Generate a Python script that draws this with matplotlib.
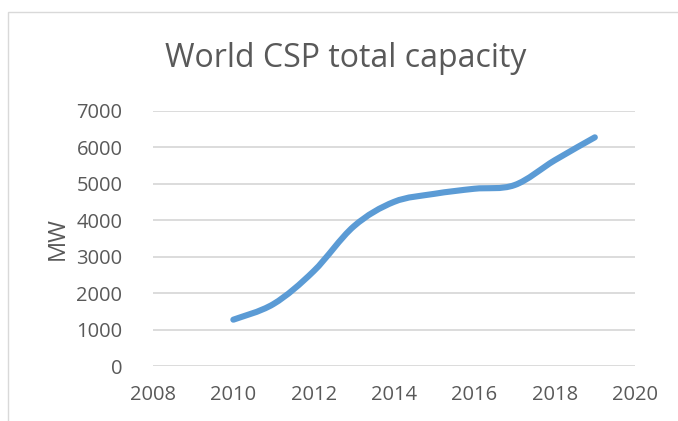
import matplotlib
matplotlib.use("Agg")
import matplotlib.pyplot as plt
from matplotlib.path import Path
from matplotlib.patches import PathPatch, Rectangle

years = [2010, 2011, 2012, 2013, 2014, 2015, 2016, 2017, 2018, 2019]
capacity_mw = [1270, 1700, 2600, 3830, 4500, 4720, 4860, 4960, 5640, 6270]
x_ticks = [2008, 2010, 2012, 2014, 2016, 2018, 2020]
y_ticks = [0, 1000, 2000, 3000, 4000, 5000, 6000, 7000]
title = "World CSP total capacity"
y_label = "MW"

TEXT = "#595959"
GRID = "#D9D9D9"
LINE = "#5B9BD5"
FONT = "Open Sans"

W, H = 678, 421
fig = plt.figure(figsize=(W / 100, H / 100), dpi=100)

# chart border (cropped on right and bottom)
fig.patches.append(Rectangle((8 / W, -0.1), 1.2, (H - 12) / H + 0.1,
                             transform=fig.transFigure, fill=False,
                             edgecolor=GRID, linewidth=1.0))

ax = fig.add_axes([153 / W, (H - 366) / H, (635 - 153) / W, (366 - 110.7) / H])
ax.set_xlim(2008, 2020)
ax.set_ylim(0, 7000)
ax.set_xticks(x_ticks)
ax.set_yticks(y_ticks)
ax.set_xticklabels([str(t) for t in x_ticks], fontfamily=FONT, fontsize=14.5, color=TEXT)
ax.set_yticklabels([str(t) for t in y_ticks], fontfamily=FONT, fontsize=14.5, color=TEXT)
ax.tick_params(axis="both", length=0)
ax.tick_params(axis="x", pad=14)
ax.tick_params(axis="y", pad=22)
for s in ax.spines.values():
    s.set_visible(False)
ax.yaxis.grid(True, color=GRID, linewidth=1.3)
ax.set_axisbelow(True)

# Excel-style smoothed line (Bezier through the data points)
pts = list(zip(years, capacity_mw))
n = len(pts)
verts = [pts[0]]
codes = [Path.MOVETO]
for i in range(n - 1):
    p0 = pts[i - 1] if i > 0 else pts[i]
    p1 = pts[i]
    p2 = pts[i + 1]
    p3 = pts[i + 2] if i + 2 < n else pts[i + 1]
    c1 = (p1[0] + (p2[0] - p0[0]) / 6, p1[1] + (p2[1] - p0[1]) / 6)
    c2 = (p2[0] - (p3[0] - p1[0]) / 6, p2[1] - (p3[1] - p1[1]) / 6)
    verts += [c1, c2, p2]
    codes += [Path.CURVE4] * 3
patch = PathPatch(Path(verts, codes), fill=False, edgecolor=LINE,
                  linewidth=4.4, capstyle="round", joinstyle="round")
ax.add_patch(patch)

fig.text(346 / W, 1 - 67 / H, title, ha="center", va="baseline",
         fontfamily=FONT, fontsize=23, color=TEXT)
fig.text(58 / W, 1 - 238 / H, y_label, ha="center", va="center", rotation=90,
         fontfamily=FONT, fontsize=17, color=TEXT)

fig.savefig("out.png", dpi=100)
